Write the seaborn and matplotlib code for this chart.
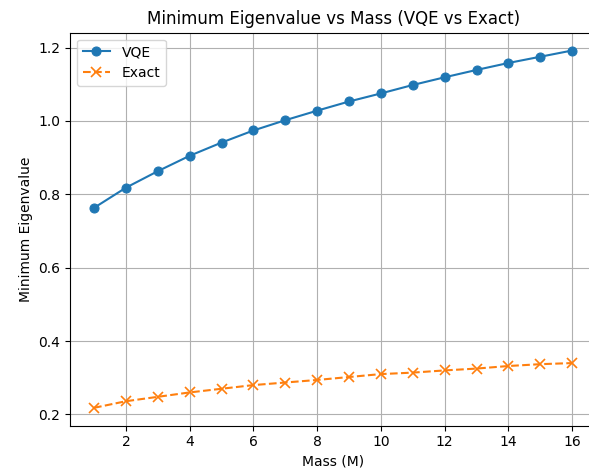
import numpy as np
import pandas as pd
import matplotlib
matplotlib.use('Agg')
import matplotlib.pyplot as plt
import seaborn as sns

# ── Data ───────────────────────────────────────────────────
mass = list(range(1, 17))
vqe = [0.763, 0.818, 0.863, 0.905, 0.941, 0.974, 1.002, 1.028,
       1.053, 1.075, 1.098, 1.119, 1.139, 1.158, 1.175, 1.192]
exact = [0.218, 0.236, 0.248, 0.260, 0.270, 0.280, 0.287, 0.294,
         0.302, 0.310, 0.314, 0.320, 0.325, 0.332, 0.337, 0.340]

df = pd.DataFrame({"Mass": mass, "VQE": vqe, "Exact": exact})

plt.rcParams.update({"font.family": "DejaVu Sans"})
fig, ax = plt.subplots(figsize=(5.89, 4.73), dpi=100)
# right spine sits just past the picture edge in the reference
fig.subplots_adjust(left=0.119, right=1.012, top=0.931, bottom=0.100)

sns.lineplot(data=df, x="Mass", y="VQE", ax=ax, marker="o", markersize=6.5,
             color="#1f77b4", label="VQE", markeredgecolor="#1f77b4")
sns.lineplot(data=df, x="Mass", y="Exact", ax=ax, marker="x", markersize=6.5,
             color="#ff7f0e", linestyle="--", label="Exact",
             markeredgecolor="#ff7f0e", markeredgewidth=1.2)

ax.set_xticks(range(2, 17, 2))
ax.set_xlabel("Mass (M)")
ax.set_ylabel("Minimum Eigenvalue")
ax.set_title("Minimum Eigenvalue vs Mass (VQE vs Exact)")
ax.grid(True)
ax.legend(loc="upper left")

fig.savefig("out.png", dpi=100)
